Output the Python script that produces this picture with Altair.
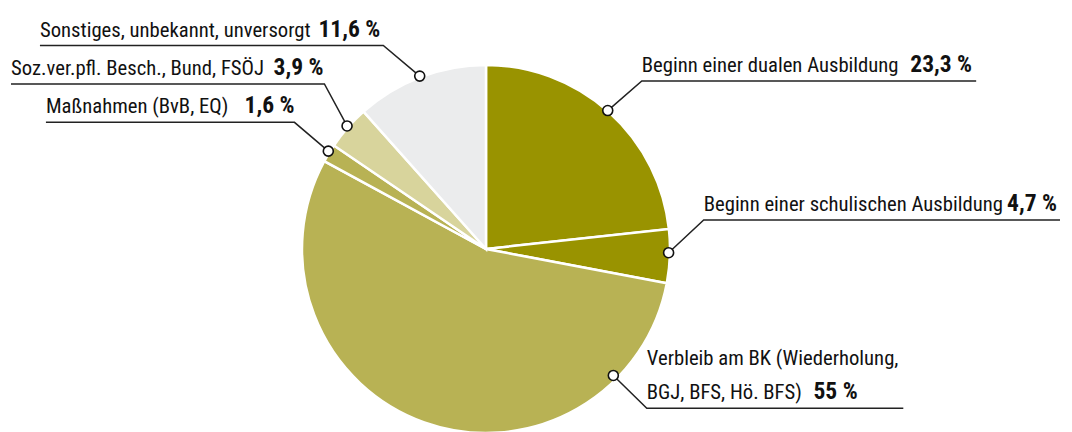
import math
import altair as alt
import pandas as pd

# ---- data ----
categories = [
    "Beginn einer dualen Ausbildung",
    "Beginn einer schulischen Ausbildung",
    "Verbleib am BK (Wiederholung, BGJ, BFS, Hö. BFS)",
    "Maßnahmen (BvB, EQ)",
    "Soz.ver.pfl. Besch., Bund, FSÖJ",
    "Sonstiges, unbekannt, unversorgt",
]
values = [23.3, 4.7, 55.0, 1.6, 3.9, 11.6]
value_labels = ["23,3 %", "4,7 %", "55 %", "1,6 %", "3,9 %", "11,6 %"]
label_lines = [
    ["Beginn einer dualen Ausbildung"],
    ["Beginn einer schulischen Ausbildung"],
    ["Verbleib am BK (Wiederholung,", "BGJ, BFS, Hö. BFS)"],
    ["Maßnahmen (BvB, EQ)"],
    ["Soz.ver.pfl. Besch., Bund, FSÖJ"],
    ["Sonstiges, unbekannt, unversorgt"],
]

# ---- style / layout ----
colors = ["#999300", "#999300", "#b8b254", "#b8b254", "#d8d49c", "#ebeced"]
W, H = 1056, 424
CX, CY, R = 476, 241, 184
FONT = "Roboto Condensed"
FS = 20.7
FS_BOLD = 23.5
LINE_H = 35
# label layout: underline start x, underline end x, underline y, bold start x, elbow side
label_layout = [
    dict(x0=633, x1=968, y=74, bx=902, elbow="left"),
    dict(x0=695, x1=1052, y=215, bx=999, elbow="left"),
    dict(x0=638, x1=895, y=406, bx=805, elbow="left", anchor_frac=0.377),
    dict(x0=36, x1=285, y=116, bx=235, elbow="right"),
    dict(x0=1, x1=315, y=77, bx=264, elbow="right"),
    dict(x0=30, x1=374, y=38, bx=309, elbow="right"),
]

total = sum(values)
pie = pd.DataFrame({"cat": categories, "val": values, "order": range(len(values))})

cum = 0.0
lines, markers, texts, bolds = [], [], [], []
for i, v in enumerate(values):
    mid = (cum + v / 2) / total
    cum += v
    lay = label_layout[i]
    frac = lay.get("anchor_frac", mid)
    ang = 2 * math.pi * frac
    mx = CX + R * math.sin(ang)
    my = CY - R * math.cos(ang)
    ex = lay["x0"] if lay["elbow"] == "left" else lay["x1"]
    fx = lay["x1"] if lay["elbow"] == "left" else lay["x0"]
    for k, (px, py) in enumerate([(mx, my), (ex, lay["y"]), (fx, lay["y"])]):
        lines.append({"id": i, "k": k, "x": px, "y": py})
    markers.append({"id": i, "x": mx, "y": my})
    n = len(label_lines[i])
    for j, t in enumerate(label_lines[i]):
        texts.append({"t": t, "x": lay["x0"], "y": lay["y"] - 9 - (n - 1 - j) * LINE_H})
    bolds.append({"t": value_labels[i], "x": lay["bx"], "y": lay["y"] - 9})

xs = alt.Scale(domain=[0, W], nice=False, zero=False)
ys = alt.Scale(domain=[0, H], nice=False, zero=False, reverse=True)

arcs = alt.Chart(pie).mark_arc(outerRadius=R, stroke="white", strokeWidth=2.5).encode(
    theta=alt.Theta("val:Q", stack=True),
    order=alt.Order("order:Q"),
    color=alt.Color("cat:N", scale=alt.Scale(domain=categories, range=colors), legend=None),
    x=alt.value(CX),
    y=alt.value(CY),
)

leader = alt.Chart(pd.DataFrame(lines)).mark_line(color="#222222", strokeWidth=1.5).encode(
    x=alt.X("x:Q", scale=xs, axis=None),
    y=alt.Y("y:Q", scale=ys, axis=None),
    detail="id:N",
    order="k:Q",
)

pts = alt.Chart(pd.DataFrame(markers)).mark_point(
    shape="circle", filled=True, fill="white", stroke="#111111", strokeWidth=1.6, size=100, opacity=1
).encode(x=alt.X("x:Q", scale=xs, axis=None), y=alt.Y("y:Q", scale=ys, axis=None))

txt = alt.Chart(pd.DataFrame(texts)).mark_text(
    align="left", baseline="alphabetic", font=FONT, fontSize=FS, fontWeight=400, color="#111111"
).encode(x=alt.X("x:Q", scale=xs, axis=None), y=alt.Y("y:Q", scale=ys, axis=None), text="t:N")

btxt = alt.Chart(pd.DataFrame(bolds)).mark_text(
    align="left", baseline="alphabetic", font=FONT, fontSize=FS_BOLD, fontWeight="bold", color="#111111"
).encode(x=alt.X("x:Q", scale=xs, axis=None), y=alt.Y("y:Q", scale=ys, axis=None), text="t:N")

chart = alt.layer(arcs, leader, pts, txt, btxt).properties(
    width=W, height=H, padding=0,
    autosize=alt.AutoSizeParams(type="fit", contains="padding"),
).configure_view(stroke=None)

chart.save("out.html", embed_options={"renderer": "svg", "actions": False})
